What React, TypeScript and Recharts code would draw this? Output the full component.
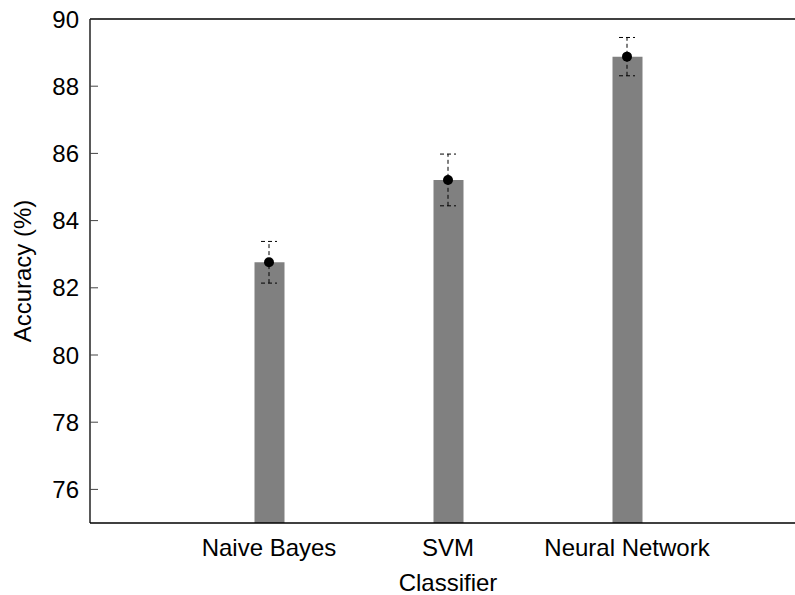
import {
  Bar,
  ComposedChart,
  ErrorBar,
  Label,
  ReferenceLine,
  Scatter,
  XAxis,
  YAxis,
} from "recharts";

const classifiers = ["Naive Bayes", "SVM", "Neural Network"];
const accuracy = [82.76, 85.21, 88.88];
const accuracyErr = [0.62, 0.77, 0.57];
const yTicks = [76, 78, 80, 82, 84, 86, 88, 90];

const data = classifiers.map((name, i) => ({
  x: i + 1,
  name,
  acc: accuracy[i],
  err: accuracyErr[i],
}));

const font = "'Liberation Sans', Arial, Helvetica, sans-serif";

const Dot = (p: any) => <circle cx={p.cx} cy={p.cy} r={5} fill="#000" />;

const App = () => {
  return (
    <div
      style={{
        position: "fixed",
        left: 0,
        top: 0,
        width: 795,
        height: 595,
        overflow: "hidden",
        background: "#fff",
        fontFamily: font,
      }}
    >
      <ComposedChart
        width={810}
        height={595}
        data={data}
        margin={{ top: 19, right: 4, left: 0, bottom: 0 }}
      >
        <XAxis
          dataKey="x"
          type="number"
          domain={[0, 4]}
          ticks={[1, 2, 3]}
          tickFormatter={(v) => classifiers[v - 1]}
          tickLine={false}
          tickSize={0}
          tickMargin={16}
          height={72}
          axisLine={{ stroke: "#000", strokeWidth: 1.3 }}
          tick={{ fontSize: 24, fill: "#000", fontFamily: font }}
        >
          <Label
            value="Classifier"
            position="insideBottom"
            offset={4}
            style={{ fontSize: 24, fill: "#000", fontFamily: font }}
          />
        </XAxis>
        <YAxis
          type="number"
          domain={[75, 90]}
          ticks={yTicks}
          width={90}
          tickSize={-8}
          tickMargin={19}
          axisLine={{ stroke: "#000", strokeWidth: 1.3 }}
          tickLine={{ stroke: "#444" }}
          tick={{ fontSize: 24, fill: "#000", fontFamily: font }}
        >
          <Label
            content={({ viewBox }: any) => {
              const cy = viewBox.y + viewBox.height / 2;
              return (
                <text
                  x={31}
                  y={cy}
                  transform={`rotate(-90 31 ${cy})`}
                  textAnchor="middle"
                  fontSize={24}
                  fill="#000"
                  fontFamily={font}
                >
                  Accuracy (%)
                </text>
              );
            }}
          />
        </YAxis>
        <ReferenceLine y={90} stroke="#000" strokeWidth={1.3} />
        <Bar
          dataKey="acc"
          fill="#808080"
          barSize={30}
          isAnimationActive={false}
        />
        <Scatter dataKey="acc" shape={Dot} isAnimationActive={false}>
          <ErrorBar
            dataKey="err"
            direction="y"
            width={8}
            stroke="#000"
            strokeWidth={1}
            strokeDasharray="4 3"
          />
        </Scatter>
      </ComposedChart>
    </div>
  );
};

export default App;
